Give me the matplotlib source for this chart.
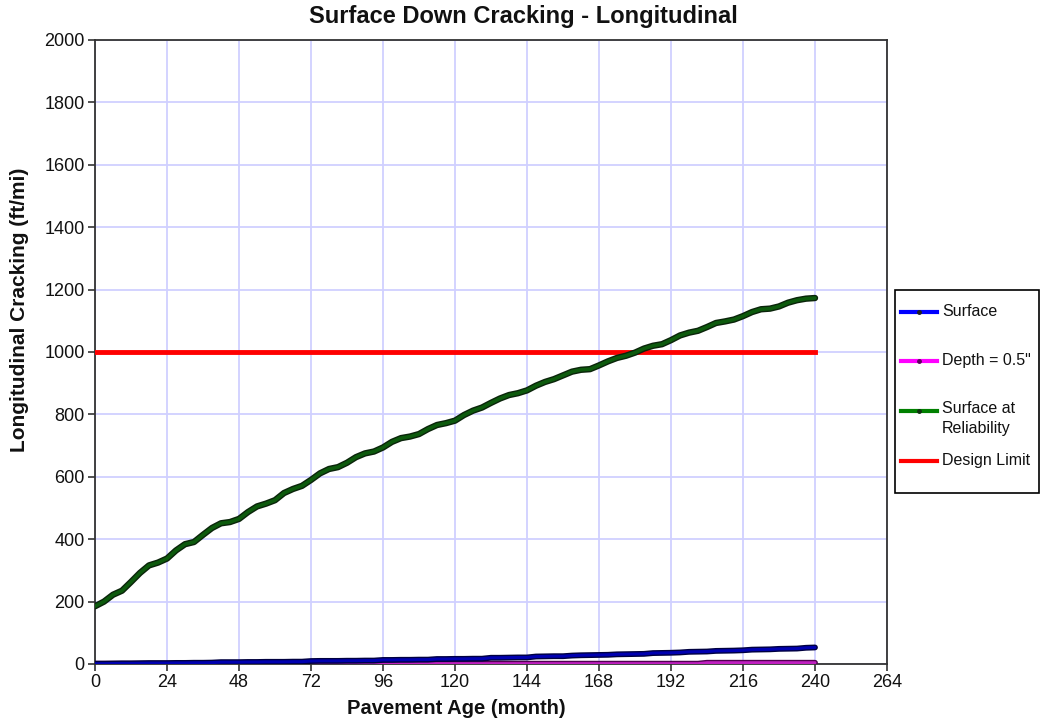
import matplotlib
matplotlib.use("Agg")
import matplotlib.pyplot as plt
import matplotlib.patheffects as pe
from matplotlib.lines import Line2D
from matplotlib.patches import Rectangle

plt.rcParams["font.family"] = ["Liberation Sans", "DejaVu Sans"]

# pavement age, every 3 months
months = list(range(0, 241, 3))

# surface down cracking (ft/mi)
surface = [1, 1, 1.5, 2, 2, 2.5, 3, 3, 3, 3.5, 3.5, 4, 4, 4.5, 6, 6, 6, 6.5, 6.5, 7, 7,
           7, 7.5, 7.5, 9.5, 10, 10, 10, 10.5, 10.5, 11, 11, 13, 13, 13.5, 13.5, 14, 14,
           16, 16, 16.5, 16.5, 17, 17, 20, 20, 20.5, 21, 21, 24, 24.5, 25, 25, 27, 28,
           28.5, 29, 29.5, 31, 31.5, 32, 32.5, 35, 35.5, 36, 37, 39, 39.5, 40, 42, 42.5,
           43, 44, 46, 46.5, 47, 48.5, 49, 49.5, 52, 53]

depth_05 = [1.0] * 68 + [4.0] * 13

surface_rel = [185, 200, 222, 235, 263, 292, 316, 325, 338, 364, 384, 391, 414, 436,
               451, 455, 465, 487, 505, 514, 525, 548, 561, 571, 590, 611, 625, 631,
               645, 663, 675, 681, 694, 712, 724, 729, 737, 753, 766, 772, 780, 798,
               812, 822, 837, 851, 862, 868, 877, 892, 904, 913, 925, 937, 943, 945,
               957, 970, 981, 988, 998, 1011, 1020, 1025, 1038, 1053, 1062, 1068, 1080,
               1093, 1098, 1104, 1115, 1128, 1137, 1139, 1146, 1158, 1166, 1171, 1173]

limit_months = [0, 240]
design_limit = [1000, 1000]

W, H = 1040, 722
fig = plt.figure(figsize=(W / 100, H / 100), dpi=100)
ax = fig.add_axes([95 / W, 1 - 664 / H, (887 - 95) / W, (664 - 40) / H])

grid_col = "#d0d0ff"
ax.set_xlim(0, 264)
ax.set_ylim(0, 2000)
ax.set_xticks(range(0, 265, 24))
ax.set_yticks(range(0, 2001, 200))
ax.grid(True, color=grid_col, lw=1.3)
ax.set_axisbelow(True)

for side in ("left", "bottom", "right", "top"):
    ax.spines[side].set_color("#333333")
    ax.spines[side].set_linewidth(1.3)
ax.tick_params(direction="out", length=5, width=1.2, color="#333333", pad=2.5,
               labelsize=13, labelcolor="#111111")


def outlined(col, edge, lw):
    return dict(color=col, lw=lw, solid_capstyle="round",
                path_effects=[pe.Stroke(linewidth=lw + 2, foreground=edge), pe.Normal()])


ax.plot(limit_months, design_limit, color="#ff0000", lw=3.5, zorder=3)
ax.plot(months, surface_rel, zorder=4, **outlined("#0d5a0d", "#0a240a", 2.6))
ax.plot(months, depth_05, zorder=4, **outlined("#c020c0", "#500050", 2.2))
ax.plot(months, surface, zorder=5, **outlined("#0000b0", "#000040", 2.2))

fig.text(523 / W, 1 - 17 / H, "Surface Down Cracking - Longitudinal", ha="center",
         va="center", fontsize=17, fontweight="bold", color="#111111")
fig.text(456 / W, 1 - 708 / H, "Pavement Age (month)", ha="center", va="center",
         fontsize=14.5, fontweight="bold", color="#111111")
fig.text(20 / W, 1 - 310 / H, "Longitudinal Cracking (ft/mi)", ha="center", va="center",
         rotation=90, fontsize=15, fontweight="bold", color="#111111")

# legend box at the right of the plot
fig.add_artist(Rectangle((895 / W, 1 - 493 / H), (1039 - 895) / W, (493 - 290) / H,
                         transform=fig.transFigure, fill=False, ec="#000000", lw=1.2))
legend_items = [
    ("Surface", "#0000ff", "#202020", 312),
    ('Depth = 0.5"', "#ff00ff", "#600060", 361),
    ("Surface at\nReliability", "#008000", "#103010", 411),
    ("Design Limit", "#ff0000", None, 461),
]
for label, col, dot, y in legend_items:
    yf = 1 - y / H
    fig.add_artist(Line2D([901 / W, 937 / W], [yf, yf], transform=fig.transFigure,
                          color=col, lw=3))
    if dot:
        fig.add_artist(Line2D([919 / W], [yf], transform=fig.transFigure, marker="o",
                              ms=2.5, mfc=dot, mec=dot, ls="none"))
    if "\n" in label:
        fig.text(942 / W, 1 - (y - 10) / H, label, ha="left", va="top",
                 fontsize=11.5, color="#111111", linespacing=1.45)
    else:
        fig.text(942 / W, yf, label, ha="left", va="center",
                 fontsize=11.5, color="#111111")

fig.savefig("out.png", dpi=100)
